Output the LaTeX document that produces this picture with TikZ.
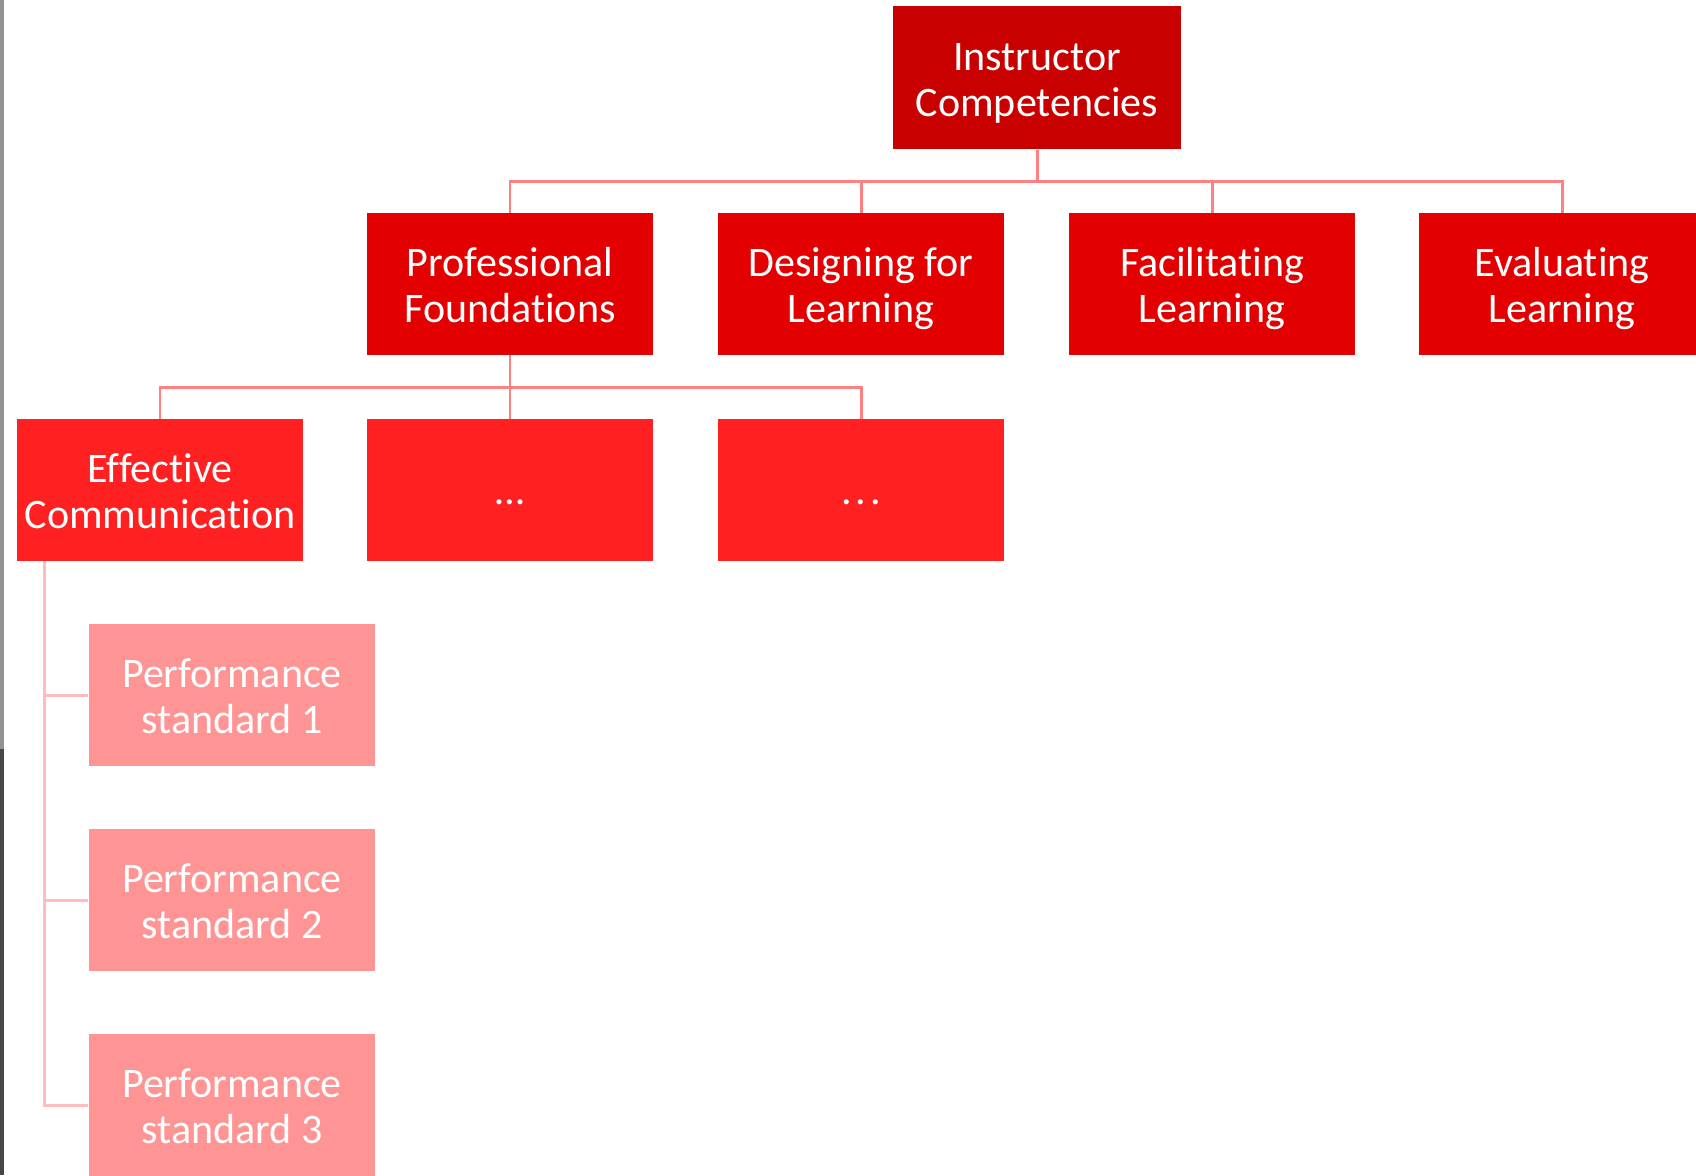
\documentclass[tikz,border=0pt]{standalone}
\usepackage{fontspec}
\setmainfont{Carlito}[Ligatures={NoCommon}]
\definecolor{toprd}{HTML}{C80000}
\definecolor{midrd}{HTML}{E30000}
\definecolor{lowrd}{HTML}{FF2121}
\definecolor{pinkrd}{HTML}{FF9494}
\definecolor{linkrd}{HTML}{FF8080}
\definecolor{sublinkrd}{HTML}{FFBCBC}
% two centred lines, same height and depth whatever the letters
\newcommand\twolines[2]{\raisebox{0pt}[0.75em][0pt]{#1}\\\raisebox{0pt}[0.75em][0pt]{#2}}
\begin{document}
\begin{tikzpicture}[x=0.01cm,y=-0.01cm,
    box/.style={inner sep=0pt,minimum width=2.86cm,minimum height=1.41cm,
      text=white,align=center,font=\fontsize{11.95}{13.1}\selectfont},
    link/.style={draw=linkrd,line width=0.85pt},
    sublink/.style={draw=sublinkrd,line width=0.85pt}]
  \useasboundingbox[fill=white] (0,0) rectangle (1696,1175);
  \fill[gray!85!white] (0,0) rectangle (4,749);
  \fill[black!72] (0,749) rectangle (4,1175);
  % top level
  \node[box,fill=toprd,minimum width=2.88cm,minimum height=1.43cm] (ic) at (1037,77.5) {\twolines{Instructor}{Competencies}};
  % competency areas
  \node[box,fill=midrd] (pf) at (510,284) {\twolines{Professional}{Foundations}};
  \node[box,fill=midrd] (dl) at (861,284) {\twolines{Designing for}{Learning}};
  \node[box,fill=midrd] (fl) at (1212,284) {\twolines{Facilitating}{Learning}};
  \node[box,fill=midrd] (el) at (1562,284) {\twolines{Evaluating}{Learning}};
  % competencies
  \node[box,fill=lowrd] (ec) at (160,490) {\twolines{Effective}{Communication}};
  \node[box,fill=lowrd] (d1) at (510,490) {\strut\raisebox{-0.05cm}{…}};
  \node[box,fill=lowrd] (d2) at (861,490) {\strut\raisebox{-0.05cm}{.\kern1.1pt.\kern1.1pt.}};
  % performance standards
  \node[box,fill=pinkrd] (ps1) at (232,695) {\twolines{Performance}{standard 1}};
  \node[box,fill=pinkrd] (ps2) at (232,900) {\twolines{Performance}{standard 2}};
  \node[box,fill=pinkrd] (ps3) at (232,1105) {\twolines{Performance}{standard 3}};
  \coordinate (j1) at (1037,181);
  \coordinate (j2) at (510,387);
  \coordinate (j3) at ([xshift=0.28cm]ec.south west);
  \draw[link] (ic.south) -- (j1);
  \foreach \n in {pf,dl,fl,el}
    \draw[link] (j1) -| (\n.north);
  \draw[link] (pf.south) -- (j2);
  \foreach \n in {ec,d1,d2}
    \draw[link] (j2) -| (\n.north);
  \foreach \n in {ps1,ps2,ps3}
    \draw[sublink] (j3) |- (\n.west);
\end{tikzpicture}
\end{document}
